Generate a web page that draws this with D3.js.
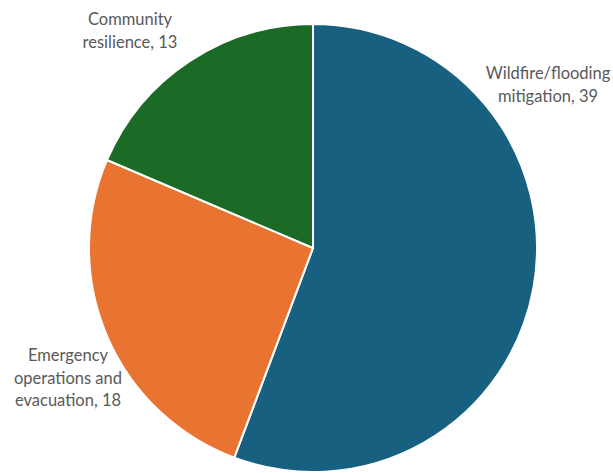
<!DOCTYPE html>
<html><head><meta charset="utf-8">
<script src="https://cdn.jsdelivr.net/npm/d3@7"></script>
<style>body{margin:0;background:#fff}svg{display:block}</style>
</head><body>
<svg id="c" width="613" height="473"></svg>
<script>
const categories = ["Wildfire/flooding mitigation", "Emergency operations and evacuation", "Community resilience"];
const values = [39, 18, 13];
const colors = ["#17607f", "#e97432", "#1b6b27"];
const labelLines = [["Wildfire/flooding", "mitigation, 39"], ["Emergency", "operations and", "evacuation, 18"], ["Community", "resilience, 13"]];
const labelPos = [[548, 79], [68, 361], [130, 25]];

const svg = d3.select("#c");
const cx = 313, cy = 248, r = 224;
const pie = d3.pie().sort(null).value(d => d)(values);
const arc = d3.arc().innerRadius(0).outerRadius(r);
const g = svg.append("g").attr("transform", `translate(${cx},${cy})`);
g.selectAll("path").data(pie).join("path")
  .attr("d", arc).attr("fill", (d, i) => colors[i])
  .attr("stroke", "#fff").attr("stroke-width", 2).attr("stroke-linejoin", "round");

labelLines.forEach((lines, i) => {
  const t = svg.append("text").attr("text-anchor", "middle")
    .attr("font-family", "Lato, 'Noto Sans', sans-serif").attr("font-size", 16.5)
    .attr("fill", "#595959");
  lines.forEach((s, j) => t.append("tspan").attr("x", labelPos[i][0]).attr("y", labelPos[i][1] + j * 22.5).text(s));
});
</script>
</body></html>
